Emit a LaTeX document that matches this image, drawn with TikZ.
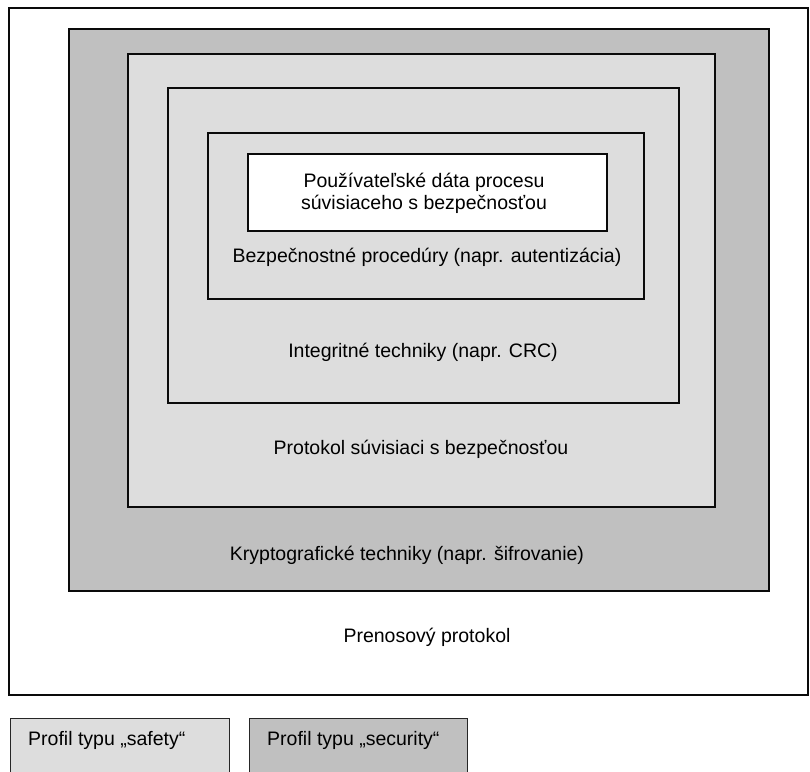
\documentclass[tikz,border=0pt]{standalone}
\usepackage{fontspec}
\setmainfont{Liberation Sans}
\usetikzlibrary{positioning}
\definecolor{cryptogray}{RGB}{192,192,192}
\definecolor{layergray}{RGB}{221,221,221}
\definecolor{edgeblack}{RGB}{10,10,10}
\tikzset{
  layer/.style={draw=edgeblack,line width=1.8pt},
  layertext/.style={font=\fontsize{19.5}{22}\selectfont,anchor=base,inner sep=0pt},
  legendbox/.style={draw=black!85,line width=0.8pt},
}

\begin{document}
\begin{tikzpicture}[x=1pt,y=-1pt]
\clip (0,0) rectangle (810,771);
% nested layers, outermost first
\draw[layer,fill=white]      (9,8)     rectangle (808,695);
\draw[layer,fill=cryptogray] (69,29)   rectangle (769,591);
\draw[layer,fill=layergray]  (128,54)  rectangle (715,507);
\draw[layer,fill=layergray]  (168,88)  rectangle (679,403);
\draw[layer,fill=layergray]  (208,133) rectangle (644,299);
\draw[layer,fill=white]      (248,154) rectangle (607,231);
\node[layertext,align=center] (userdata) at (424,209)
  {Používateľské dáta procesu\\súvisiaceho s bezpečnosťou};
\node[layertext] (procedures) at (427,262) {Bezpečnostné procedúry (napr. autentizácia)};
\node[layertext] (integrity)  at (423,357) {Integritné techniky (napr. CRC)};
\node[layertext] (protocol)   at (421,454) {Protokol súvisiaci s bezpečnosťou};
\node[layertext] (crypto)     at (407,560) {Kryptografické techniky (napr. šifrovanie)};
\node[layertext] (transport)  at (427,642) {Prenosový protokol};
% legend
\draw[legendbox,fill=layergray]  (10,718)  rectangle (229,780);
\draw[legendbox,fill=cryptogray] (249,718) rectangle (467,780);
\node[layertext,anchor=base west] (safety)   at (28,745)  {Profil typu „safety“};
\node[layertext,anchor=base west] (security) at (267,745) {Profil typu „security“};
\end{tikzpicture}
\end{document}
